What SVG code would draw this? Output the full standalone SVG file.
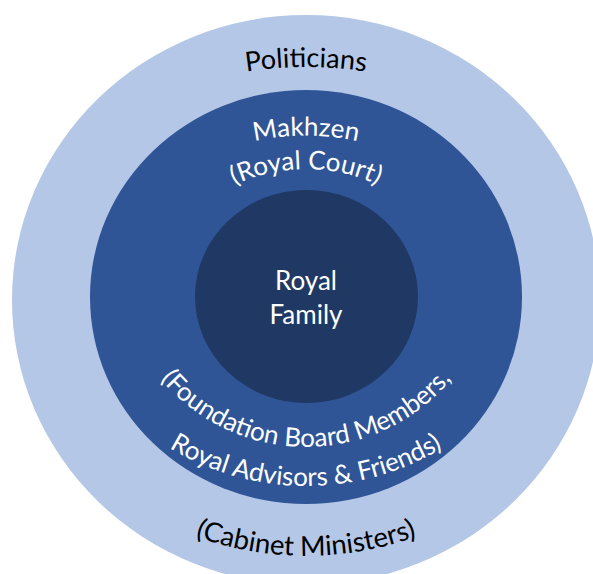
<svg xmlns="http://www.w3.org/2000/svg" width="593" height="574" viewBox="0 0 593 574">
  <style>
    .lbl { font-family: Lato, "Open Sans", "Liberation Sans", sans-serif; font-size: 26px; }
    .dark { fill: #000000; }
    .light { fill: #FFFFFF; }
  </style>
  <defs>
    <path id="arcPol" d="M -40.4 267 A 400 400 0 0 1 652.4 267"/>
    <path id="arcMak" d="M 69.6 334.3 A 240 240 0 0 1 542.4 334.3"/>
    <path id="arcCourt" d="M 138.6 309.5 A 170 170 0 0 1 473.4 309.5"/>
    <path id="arcFound" d="M 118.9 290 A 190 190 0 0 0 493.1 290"/>
    <path id="arcAdv" d="M 46 267.8 A 264 264 0 0 0 566 267.8"/>
    <path id="arcCab" d="M -16 285.8 A 327 327 0 0 0 628 285.8"/>
  </defs>
  <rect width="593" height="574" fill="#FFFFFF"/>
  <g id="politicians">
    <ellipse cx="306" cy="300" rx="294" ry="285" fill="#B4C7E7"/>
    <text class="lbl dark" style="font-size:27px"><textPath href="#arcPol" startOffset="50%" text-anchor="middle">Politicians</textPath></text>
    <text class="lbl dark" style="font-size:27.5px"><textPath href="#arcCab" startOffset="50%" text-anchor="middle">(Cabinet Ministers)</textPath></text>
  </g>
  <g id="makhzen">
    <ellipse cx="306" cy="297" rx="216" ry="207" fill="#2F5597"/>
    <text class="lbl light"><textPath href="#arcMak" startOffset="50%" text-anchor="middle">Makhzen</textPath></text>
    <text class="lbl light"><textPath href="#arcCourt" startOffset="50%" text-anchor="middle">(Royal Court)</textPath></text>
    <text class="lbl light"><textPath href="#arcFound" startOffset="50%" text-anchor="middle">(Foundation Board Members,</textPath></text>
    <text class="lbl light"><textPath href="#arcAdv" startOffset="50%" text-anchor="middle">Royal Advisors &amp; Friends)</textPath></text>
  </g>
  <g id="royal-family">
    <ellipse cx="306.5" cy="296.5" rx="111.5" ry="106.5" fill="#203864"/>
    <text class="lbl light" x="306" y="290" text-anchor="middle">Royal</text>
    <text class="lbl light" x="306" y="324" text-anchor="middle">Family</text>
  </g>
</svg>
